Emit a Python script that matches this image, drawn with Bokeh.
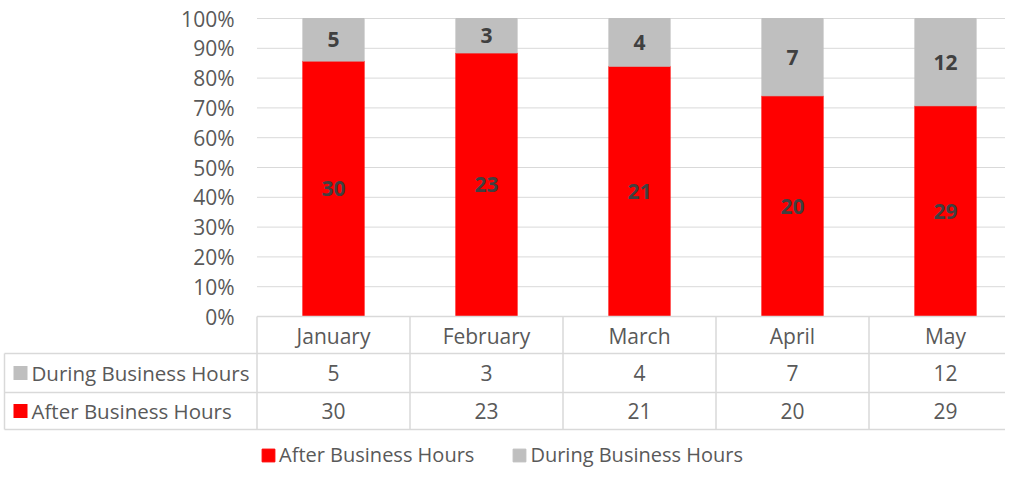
from bokeh.plotting import figure
from bokeh.models import Range1d, Legend, LegendItem, ColumnDataSource
from bokeh.core.properties import value
from bokeh.embed import file_html
from bokeh.resources import INLINE

# ---- data ----
months = ["January", "February", "March", "April", "May"]
during = [5, 3, 4, 7, 12]
after = [30, 23, 21, 20, 29]
pct_ticks = [0, 10, 20, 30, 40, 50, 60, 70, 80, 90, 100]
series_names = ["During Business Hours", "After Business Hours"]

FONT = value("Open Sans")
TXT = "#595959"
LBL = "#404040"
LINE = "#D9D9D9"
RED = "#FF0000"
GRAY = "#BFBFBF"
FS = "21px"

# pixel -> data helpers (layout only)
def px(x):
    return (x - 333) / 153.0

def py(y):
    return (316 - y) / 2.98

W, H = 1005, 469
xs = list(range(len(months)))
totals = [a + d for a, d in zip(after, during)]
after_pct = [a / t * 100 for a, t in zip(after, totals)]
during_top = [100.0] * len(months)

p = figure(width=W, height=H, output_backend="svg", toolbar_location=None,
           x_range=Range1d(px(0), px(W)), y_range=Range1d(py(H), py(0)),
           x_axis_location=None, y_axis_location=None, min_border=0,
           outline_line_color=None)
p.grid.visible = False

# gridlines (10%..100%)
grid_y = [t for t in pct_ticks if t > 0]
p.segment(x0=[-0.5] * len(grid_y), x1=[4.5] * len(grid_y), y0=grid_y, y1=grid_y,
          line_color=LINE, line_width=1)

# bars
src = ColumnDataSource(dict(x=xs, after_pct=after_pct, top=during_top,
                            after=after, during=during,
                            after_mid=[v / 2 for v in after_pct],
                            during_mid=[(v + 100) / 2 for v in after_pct]))
r_after = p.vbar(x="x", bottom=0, top="after_pct", width=0.4, source=src,
                 fill_color=RED, line_color=RED)
r_during = p.vbar(x="x", bottom="after_pct", top="top", width=0.4, source=src,
                  fill_color=GRAY, line_color=GRAY)

# data labels
p.text(x="x", y="after_mid", text="after", source=src, text_font=FONT,
       text_font_size=FS, text_font_style="bold", text_color=LBL,
       text_align="center", text_baseline="middle")
p.text(x="x", y="during_mid", text="during", source=src, text_font=FONT,
       text_font_size=FS, text_font_style="bold", text_color=LBL,
       text_align="center", text_baseline="middle")

# y tick labels
p.text(x=[px(234)] * len(pct_ticks), y=pct_ticks, text=[f"{t}%" for t in pct_ticks],
       text_font=FONT, text_font_size=FS, text_color=TXT,
       text_align="right", text_baseline="middle")

# data table lines
row_tops = [py(353), py(392), py(429)]
p.segment(x0=[-0.5], x1=[4.5], y0=[0], y1=[0], line_color=LINE, line_width=1.5)
p.segment(x0=[px(4)] * 3, x1=[4.5] * 3, y0=row_tops, y1=row_tops,
          line_color=LINE, line_width=1.5)
dividers = [i - 0.5 for i in range(len(months) + 1)]
p.segment(x0=dividers, x1=dividers, y0=[0] * len(dividers), y1=[py(429)] * len(dividers),
          line_color=LINE, line_width=1.5)
p.segment(x0=[px(4)], x1=[px(4)], y0=[py(353)], y1=[py(429)],
          line_color=LINE, line_width=1.5)

# table header (categories)
p.text(x=xs, y=[py(335)] * len(xs), text=months, text_font=FONT, text_font_size=FS,
       text_color=TXT, text_align="center", text_baseline="middle")
# table values
p.text(x=xs, y=[py(372.5)] * len(xs), text=[str(v) for v in during], text_font=FONT,
       text_font_size=FS, text_color=TXT, text_align="center", text_baseline="middle")
p.text(x=xs, y=[py(410.5)] * len(xs), text=[str(v) for v in after], text_font=FONT,
       text_font_size=FS, text_color=TXT, text_align="center", text_baseline="middle")
# row headers with keys
key_w = 14 / 153.0
key_h = 14 / 2.98
p.rect(x=[px(20)] * 2, y=[py(372.5), py(410.5)], width=key_w, height=key_h,
       fill_color=[GRAY, RED], line_color=None)
p.text(x=[px(31)] * 2, y=[py(372.5), py(410.5)], text=series_names,
       text_font=FONT, text_font_size="20.5px", text_color=TXT,
       text_align="left", text_baseline="middle")

# legend
legend = Legend(items=[LegendItem(label="After Business Hours", renderers=[r_after]),
                       LegendItem(label="During Business Hours", renderers=[r_during])],
                orientation="horizontal", location=(260, 1), border_line_color=None,
                background_fill_alpha=0, padding=0, margin=0, spacing=37,
                glyph_width=16, glyph_height=16, label_height=16, label_standoff=3,
                label_text_font="Open Sans", label_text_font_size="20px",
                label_text_color=TXT)
p.add_layout(legend)

open("out.html", "w").write(file_html(p, INLINE))
